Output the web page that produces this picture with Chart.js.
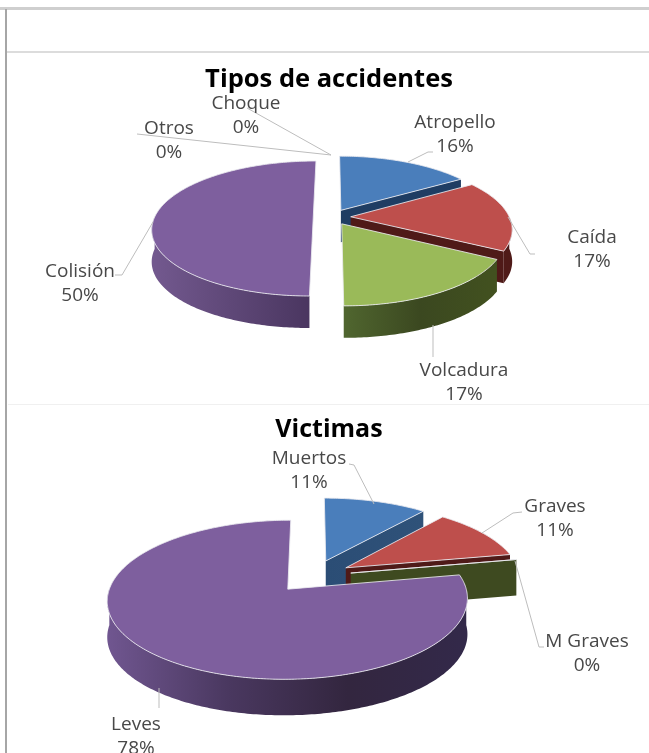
<!DOCTYPE html>
<html><head><meta charset="utf-8">
<script src="https://cdn.jsdelivr.net/npm/chart.js@4"></script>
<style>
html,body{margin:0;padding:0;background:#fff;width:649px;height:753px;overflow:hidden}
.r{position:absolute}
canvas{position:absolute}
</style></head><body>
<div class="r" style="left:0;top:7px;width:649px;height:3px;background:#cfcfcf"></div>
<div class="r" style="left:5px;top:9px;width:2px;height:744px;background:#a6a6a6"></div>
<div class="r" style="left:7px;top:51px;width:642px;height:2px;background:#dcdcdc"></div>
<div class="r" style="left:8px;top:404px;width:641px;height:1px;background:#f0f0f0"></div>
<div class="r" id="a" style="left:5px;top:0;width:648px;height:405px"><canvas id="c1"></canvas></div>
<div class="r" id="b" style="left:5px;top:405px;width:648px;height:348px"><canvas id="c2"></canvas></div>
<script>
const accidentCategories = ['Atropello','Caída','Volcadura','Colisión','Otros','Choque'];
const accidentValues = [16,17,17,50,0,0];
const victimCategories = ['Muertos','Graves','M Graves','Leves'];
const victimValues = [11,11,0,78];
const accidentTitle = 'Tipos de accidentes';
const victimTitle = 'Victimas';

const topColors = ['#4a7ebb','#be4f4c','#9aba59','#7e5f9e','#4bacc6','#f79646'];
const palette4 = ['#4a7ebb','#be4f4c','#9aba59','#7e5f9e'];

const view1 = {left:5, top:0, cx:332, cy:228.5, ry:67.5, persp:.17, depth:32,
  walls:[['#1f3d63','#1f3d63'],['#4f1a18','#4f1a18'],['#50662f','#3b4820','#42511f'],['#73598f','#4a3660'],['#333','#333'],['#333','#333']],
  labels:[[455,123],[592,238],[464,371],[80,272],[169,129],[246,104]],
  leaders:[[[408,162],[428,152],[433,152]],[[508,217],[530,254],[535,254]],[[433,325],[433,357]],[[153,222],[122,275],[115,275]],[[137,134],[331,155]],[[247,108],[331,155]]]};
const view2 = {left:5, top:405, cx:313, cy:586, ry:76, persp:.13, depth:36,
  walls:[['#2b4d75','#2f5279'],['#4f1a18','#4f1a18'],['#3e4a20','#3e4a20'],['#705690','#4a3860','#33263f','#33294a']],
  labels:[[309,459],[555,507],[587,642],[136,725]],
  leaders:[[[349,464],[354,465],[374,504]],[[522,512],[513,513],[482,533]],[[515,561],[539,647],[544,647]],[[159,688],[159,708]]]};

function project(v,R,a,b){
  const p=v.persp, k=1-p*b, s=Math.sqrt(1-p*p);
  return {x:v.cx+R*a*s/k, y:v.cy+v.ry*(b-p)/k};
}
function arcPts(v,R,ou,ov,a0,a1){
  const n=Math.max(2,Math.ceil(Math.abs(a1-a0)/0.015)), pts=[];
  for(let i=0;i<=n;i++){const t=a0+(a1-a0)*i/n; pts.push(project(v,R,ou+Math.cos(t),ov+Math.sin(t)));}
  return pts;
}
function poly(ctx,pts){ctx.beginPath();pts.forEach((q,i)=>i?ctx.lineTo(q.x,q.y):ctx.moveTo(q.x,q.y));ctx.closePath();}
function wallFill(ctx,pts,stops){
  let lo=1e9,hi=-1e9;pts.forEach(q=>{lo=Math.min(lo,q.x);hi=Math.max(hi,q.x)});
  const g=ctx.createLinearGradient(lo,0,hi+.01,0);
  stops.forEach((c,i)=>g.addColorStop(i/(stops.length-1),c));
  return g;
}
const pie3d={
  id:'pie3d',
  beforeDatasetDraw(chart,args,o){
    const v=o.view, ctx=chart.ctx, meta=chart.getDatasetMeta(0);
    ctx.save();ctx.translate(-v.left,-v.top);ctx.lineJoin='round';
    meta.data.forEach((arc,i)=>{
      const {startAngle:s,endAngle:e,outerRadius:R}=arc.getProps(['startAngle','endAngle','outerRadius'],true);
      const d=arc.options.offset/R, m=(s+e)/2, ou=Math.cos(m)*d, ov=Math.sin(m)*d;
      const tip=project(v,R,ou,ov), D=v.depth, stops=v.walls[i];
      const zero=e-s<1e-6;
      if(zero && Math.abs(Math.cos(s))<0.01) return;
      // radial walls that face the viewer
      [[s,1],[e,-1]].forEach(([t,side])=>{
        if(Math.abs(Math.cos(t))<0.01 || side*Math.cos(t)>0) return;
        const r=project(v,R,ou+Math.cos(t),ov+Math.sin(t));
        const q=[tip,r,{x:r.x,y:r.y+D},{x:tip.x,y:tip.y+D}];
        poly(ctx,q);ctx.fillStyle=wallFill(ctx,q,stops);ctx.fill();
      });
      // curved wall
      const a0=Math.max(s,0), a1=Math.min(e,Math.PI);
      if(a1>a0){
        const top=arcPts(v,R,ou,ov,a0,a1), q=top.concat(top.slice().reverse().map(p=>({x:p.x,y:p.y+D})));
        poly(ctx,q);ctx.fillStyle=wallFill(ctx,q,stops);ctx.fill();
      }
      // top face
      const face=[tip].concat(arcPts(v,R,ou,ov,s,e));
      poly(ctx,face);
      if(!zero){ctx.fillStyle=arc.options.backgroundColor;ctx.fill();}
      ctx.strokeStyle='rgba(235,235,240,.85)';ctx.lineWidth=1;ctx.stroke();
    });
    ctx.restore();
    return false;
  },
  afterDraw(chart,args,o){
    const v=o.view, ctx=chart.ctx, ds=chart.data.datasets[0];
    ctx.save();ctx.translate(-v.left,-v.top);
    ctx.strokeStyle='#bdbdbd';ctx.lineWidth=1;
    v.leaders.forEach(l=>{ctx.beginPath();l.forEach((p,i)=>i?ctx.lineTo(p[0],p[1]):ctx.moveTo(p[0],p[1]));ctx.stroke();});
    ctx.fillStyle='#484848';ctx.font='19px "Open Sans"';ctx.textAlign='center';ctx.textBaseline='middle';
    chart.data.labels.forEach((t,i)=>{
      const [x,y]=v.labels[i];
      ctx.fillText(t,x,y);
      ctx.fillText(ds.data[i]+'%',x,y+24);
    });
    ctx.restore();
  }
};
function build(id,wrap,labels,values,title,colors,radius,offset,titleTop,fontSize,view){
  const w=document.getElementById(wrap), c=document.getElementById(id);
  c.width=w.clientWidth;c.height=w.clientHeight;c.style.width=w.clientWidth+'px';c.style.height=w.clientHeight+'px';
  return new Chart(c,{type:'pie',plugins:[pie3d],
    data:{labels,datasets:[{data:values,backgroundColor:colors,offset,borderWidth:0}]},
    options:{responsive:false,animation:false,radius,
      plugins:{legend:{display:false},tooltip:{enabled:false},
        title:{display:true,text:title,color:'#000',font:{family:'"Open Sans"',size:fontSize,weight:'bold'},padding:{top:titleTop,bottom:0}},
        pie3d:{view}}}});
}
build('c1','a',accidentCategories,accidentValues,accidentTitle,topColors,161,19,64,25.5,view1);
build('c2','b',victimCategories,victimValues,victimTitle,palette4,176,39,10,25,view2);
</script>
</body></html>
